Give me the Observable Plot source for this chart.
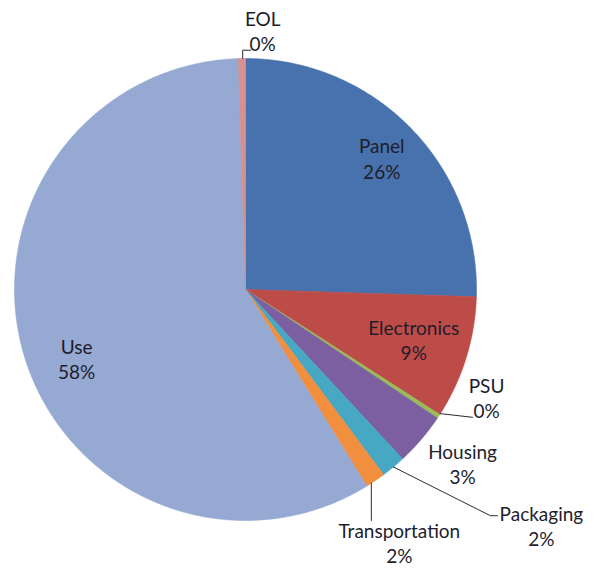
<!DOCTYPE html>
<html>
<head>
<meta charset="utf-8">
<script src="https://cdn.jsdelivr.net/npm/d3@7"></script>
<script src="https://cdn.jsdelivr.net/npm/@observablehq/plot@0.6"></script>
<style>
  html, body { margin: 0; padding: 0; background: #ffffff; }
</style>
</head>
<body>
<div id="chart"></div>
<script>
// ---- data ----
const categories = ["Panel", "Electronics", "PSU", "Housing", "Packaging", "Transportation", "Use", "EOL"];
const values = [25.5, 8.6, 0.3, 3.7, 1.7, 1.4, 58.3, 0.5];
const percentLabels = ["26%", "9%", "0%", "3%", "2%", "2%", "58%", "0%"];

// ---- styles / layout ----
const colors = ["#4872ad", "#bd4c49", "#9bbb59", "#7c5fa0", "#46a8c3", "#f28f3e", "#95a9d3", "#d5908f"];
const R = 231; // pie radius in px
const labelAngle = [46, 106.6, 114.1, 128.7, 128.6, 148.7, 247.8, 3.8];      // degrees clockwise from 12 o'clock
const labelRadius = [0.82, 0.76, 1.143, 1.204, 1.639, 1.282, 0.79, 1.125];   // fraction of radius
// leader lines: start on rim at angle, then pixel offsets relative to label centre
const leaders = [
  {cat: "PSU", start: 122.5, offsets: [[-14, 20]]},
  {cat: "Packaging", start: 140.2, offsets: [[-51, -10], [-44, -10]]},
  {cat: "Transportation", start: 147, offsets: [[-28, -22]]},
  {cat: "EOL", start: 359.3, offsets: [[-20, 20], [-12, 20]]}
];

const rad = (deg) => deg * Math.PI / 180;
const total = d3.sum(values);

// slices as polygons in unit coordinates (y up)
const slicePts = [];
let acc = 0;
categories.forEach((c, i) => {
  const a0 = acc / total * 360;
  const a1 = (acc + values[i]) / total * 360;
  acc += values[i];
  const n = Math.max(2, Math.ceil((a1 - a0) / 0.5));
  slicePts.push({c, x: 0, y: 0});
  for (let k = 0; k <= n; k++) {
    const a = rad(a0 + (a1 - a0) * k / n);
    slicePts.push({c, x: Math.sin(a), y: Math.cos(a)});
  }
  slicePts.push({c, x: 0, y: 0});
});

// labels
const labelRows = categories.map((c, i) => {
  const a = rad(labelAngle[i]);
  return {c, x: labelRadius[i] * Math.sin(a), y: labelRadius[i] * Math.cos(a), text: c + "\n" + percentLabels[i]};
});

// leader line points
const leaderPts = [];
leaders.forEach((l) => {
  const lab = labelRows.find((d) => d.c === l.cat);
  const a = rad(l.start);
  leaderPts.push({id: l.cat, x: Math.sin(a), y: Math.cos(a)});
  l.offsets.forEach(([dx, dy]) => {
    leaderPts.push({id: l.cat, x: lab.x + dx / R, y: lab.y - dy / R});
  });
});

const chart = Plot.plot({
  width: 599,
  height: 568,
  marginLeft: 14,
  marginRight: 123,
  marginTop: 58,
  marginBottom: 48,
  x: {domain: [-1, 1], axis: null},
  y: {domain: [-1, 1], axis: null},
  color: {domain: categories, range: colors},
  style: {background: "#ffffff"},
  marks: [
    Plot.line(slicePts, {x: "x", y: "y", z: "c", fill: "c", stroke: "c", strokeWidth: 0.6, curve: "linear"}),
    Plot.line(leaderPts, {x: "x", y: "y", z: "id", stroke: "#2b2b2b", strokeWidth: 1, curve: "linear"}),
    Plot.text(labelRows, {
      x: "x", y: "y", text: "text",
      fontSize: 19, fontFamily: "Lato", lineHeight: 1.33,
      fill: "#1d1d2b", textAnchor: "middle", lineAnchor: "middle"
    })
  ]
});
document.getElementById("chart").appendChild(chart);
</script>
</body>
</html>
